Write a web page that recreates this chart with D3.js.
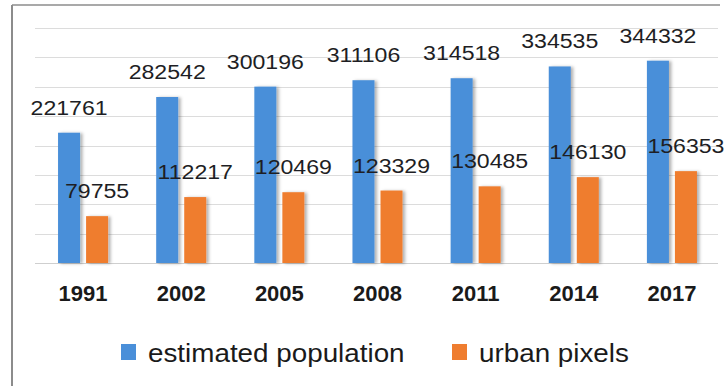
<!DOCTYPE html>
<html>
<head>
<meta charset="utf-8">
<script src="https://cdn.jsdelivr.net/npm/d3@7"></script>
<style>
  html, body { margin: 0; padding: 0; background: #fff; }
  svg { display: block; }
  text { font-family: "Liberation Sans", Arial, sans-serif; }
</style>
</head>
<body>
<svg id="chart" width="728" height="386"></svg>
<script>
const years = ["1991", "2002", "2005", "2008", "2011", "2014", "2017"];
const estimatedPopulation = [221761, 282542, 300196, 311106, 314518, 334535, 344332];
const urbanPixels = [79755, 112217, 120469, 123329, 130485, 146130, 156353];
const seriesNames = ["estimated population", "urban pixels"];
const seriesColors = ["#4a8fd9", "#ef7d2f"];
const yTicks = [0, 50000, 100000, 150000, 200000, 250000, 300000, 350000, 400000];

const svg = d3.select("#chart");
const W = 728, H = 386;

// frame (left + top borders)
svg.append("line").attr("x1", 12).attr("y1", 5).attr("x2", 12).attr("y2", H)
  .attr("stroke", "#8c8c8c").attr("stroke-width", 2);
svg.append("line").attr("x1", 12).attr("y1", 5).attr("x2", 720).attr("y2", 5)
  .attr("stroke", "#8c8c8c").attr("stroke-width", 1.5);

const defs = svg.append("defs");
const f = defs.append("filter").attr("id", "shadow")
  .attr("x", "-20%").attr("y", "-5%").attr("width", "150%").attr("height", "110%");
f.append("feDropShadow").attr("dx", 2.5).attr("dy", 0.5).attr("stdDeviation", 1.4)
  .attr("flood-color", "#000").attr("flood-opacity", 0.3);

const x = d3.scaleBand().domain(years).range([34, 721]).paddingInner(0.49).paddingOuter(0.245);
const xs = d3.scaleBand().domain(seriesNames).range([0, x.bandwidth()]).paddingInner(0.214);
const y = d3.scaleLinear().domain([0, 400000]).range([263, 28]);

// gridlines
svg.append("g").selectAll("line").data(yTicks).join("line")
  .attr("x1", 35).attr("x2", 718)
  .attr("y1", d => Math.round(y(d)) + 0.5).attr("y2", d => Math.round(y(d)) + 0.5)
  .attr("stroke", d => d === 0 ? "#cfcfcf" : "#dcdcdc").attr("stroke-width", 1);

const rows = years.map((yr, i) => ({ year: yr, values: [estimatedPopulation[i], urbanPixels[i]] }));

const groups = svg.append("g").selectAll("g").data(rows).join("g")
  .attr("transform", d => `translate(${x(d.year)},0)`);

groups.selectAll("rect").data(d => d.values.map((v, j) => ({ v, j })))
  .join("rect")
  .attr("x", d => xs(seriesNames[d.j]))
  .attr("width", xs.bandwidth())
  .attr("y", d => y(d.v))
  .attr("height", d => y(0) - y(d.v))
  .attr("fill", d => seriesColors[d.j])
  .attr("filter", "url(#shadow)");

// value labels
groups.selectAll("g.lbl").data(d => d.values.map((v, j) => ({ v, j })))
  .join("g").attr("class", "lbl")
  .attr("transform", d => `translate(${xs(seriesNames[d.j]) + xs.bandwidth() / 2},${y(d.v) - 18}) scale(1.1,1)`)
  .append("text")
  .attr("text-anchor", "middle")
  .attr("font-size", 21)
  .attr("fill", "#1e1e24")
  .text(d => d.v);

// x axis labels
const xAxis = d3.axisBottom(x).tickSize(0).tickPadding(0);
const xg = svg.append("g").attr("transform", "translate(0,301)").call(xAxis);
xg.select(".domain").remove();
xg.selectAll("text")
  .attr("dy", 0).attr("y", 0)
  .attr("font-size", 22).attr("font-weight", "bold")
  .attr("font-family", "Liberation Sans, Arial, sans-serif")
  .attr("fill", "#1a1a1a");

// legend
const legendX = [121, 452];
const lg = svg.append("g").selectAll("g").data(seriesNames).join("g")
  .attr("transform", (d, i) => `translate(${legendX[i]},344)`);
lg.append("rect").attr("width", 15).attr("height", 16)
  .attr("fill", (d, i) => seriesColors[i]);
lg.append("g").attr("transform", "translate(27,18) scale(1.07,1)")
  .append("text")
  .attr("font-size", 26).attr("fill", "#1a1a1a")
  .text(d => d);
</script>
</body>
</html>
